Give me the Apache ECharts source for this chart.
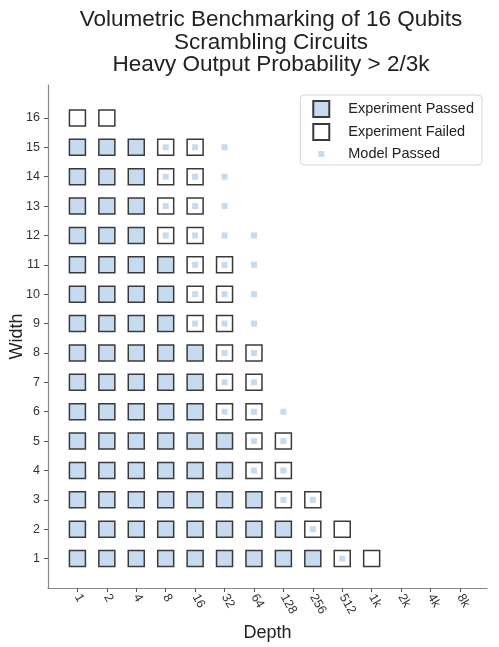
<!DOCTYPE html>
<html>
<head>
<meta charset="utf-8">
<script src="https://cdn.jsdelivr.net/npm/echarts@6/dist/echarts.min.js"></script>
<style>
  html, body { margin: 0; padding: 0; background: #fff; }
  #chart { width: 499px; height: 647px; }
</style>
</head>
<body>
<div id="chart"></div>
<script>
const depths = ['1', '2', '4', '8', '16', '32', '64', '128', '256', '512', '1k', '2k', '4k', '8k']
const widths = [1, 2, 3, 4, 5, 6, 7, 8, 9, 10, 11, 12, 13, 14, 15, 16]

// per width: number of depth columns the experiment passed
const passedCount = [9, 8, 7, 6, 6, 5, 5, 5, 4, 4, 4, 3, 3, 3, 3, 0]
// per width: depth columns the experiment failed
const failedCols = [[9, 10], [8, 9], [7, 8], [6, 7], [6, 7], [5, 6], [5, 6], [5, 6], [4, 5], [4, 5], [4, 5], [3, 4], [3, 4], [3, 4], [3, 4], [0, 1]]
// per width: depth columns the model passed (visible ones)
const modelCols = [[9], [8], [7, 8], [6, 7], [6, 7], [5, 6, 7], [5, 6], [5, 6], [4, 5, 6], [4, 5, 6], [4, 5, 6], [3, 4, 5, 6], [3, 4, 5], [3, 4, 5], [3, 4, 5], []]

const passedData = []
const failedData = []
const modelData = []
widths.forEach((w, i) => {
  for (let c = 0; c < passedCount[i]; c++) passedData.push([c, w])
  failedCols[i].forEach(c => failedData.push([c, w]))
  modelCols[i].forEach(c => modelData.push([c, w]))
})

const font = 'Liberation Sans'
const chart = echarts.init(document.getElementById('chart'))
chart.setOption({
  animation: false,
  textStyle: { fontFamily: font },
  title: {
    text: 'Volumetric Benchmarking of 16 Qubits\nScrambling Circuits\nHeavy Output Probability > 2/3k',
    left: 266,
    textAlign: 'center',
    top: 4,
    textStyle: { fontSize: 22.5, fontWeight: 'normal', color: '#222', lineHeight: 22.5 }
  },
  legend: {
    right: 17,
    top: 95,
    orient: 'vertical',
    itemGap: 5,
    itemWidth: 16,
    itemHeight: 16,
    padding: [5, 8, 3, 12],
    borderColor: '#d6d6d6',
    borderWidth: 1,
    borderRadius: 4,
    textStyle: { fontSize: 14.5, color: '#222', padding: [0, 0, 0, 14] },
    data: [
      { name: 'Experiment Passed', icon: 'rect' },
      { name: 'Experiment Failed', icon: 'rect' },
      { name: 'Model Passed', icon: 'path://M0,0L0,0M16,16L16,16M5,5h6v6h-6z' }
    ]
  },
  grid: { left: 48, right: 12, top: 85, bottom: 59, outerBoundsMode: 'none', containLabel: false },
  xAxis: {
    type: 'value',
    min: -1,
    max: 13.92,
    name: 'Depth',
    nameLocation: 'middle',
    nameGap: 33,
    nameTextStyle: { fontSize: 18, color: '#222' },
    splitLine: { show: false },
    axisLine: { onZero: false, lineStyle: { color: '#888', width: 1.2 } },
    axisTick: { customValues: depths.map((d, i) => i), length: 4, lineStyle: { color: '#555' } },
    axisLabel: {
      customValues: depths.map((d, i) => i),
      formatter: v => depths[v],
      rotate: -60,
      fontSize: 12.5,
      color: '#333',
      margin: 7
    }
  },
  yAxis: {
    type: 'value',
    min: 0,
    max: 17.12,
    name: 'Width',
    nameLocation: 'middle',
    nameMoveOverlap: false,
    nameGap: 22,
    nameTextStyle: { fontSize: 18, color: '#222' },
    splitLine: { show: false },
    axisLine: { onZero: false, lineStyle: { color: '#888', width: 1.2 } },
    axisTick: { customValues: widths, length: 4, lineStyle: { color: '#555' } },
    axisLabel: { customValues: widths, fontSize: 12.5, color: '#333', margin: 8 }
  },
  series: [
    {
      name: 'Experiment Passed',
      type: 'scatter',
      symbol: 'rect',
      symbolSize: 16,
      data: passedData,
      itemStyle: { color: '#c6dbef', borderColor: '#3a3a3a', borderWidth: 1.5, opacity: 1 },
      z: 2
    },
    {
      name: 'Experiment Failed',
      type: 'scatter',
      symbol: 'rect',
      symbolSize: 16,
      data: failedData,
      itemStyle: { color: '#ffffff', borderColor: '#3a3a3a', borderWidth: 1.5, opacity: 1 },
      z: 2
    },
    {
      name: 'Model Passed',
      type: 'scatter',
      symbol: 'rect',
      symbolSize: 6,
      data: modelData,
      itemStyle: { color: '#c6dbef', opacity: 1 },
      z: 3
    }
  ]
})
</script>
</body>
</html>
